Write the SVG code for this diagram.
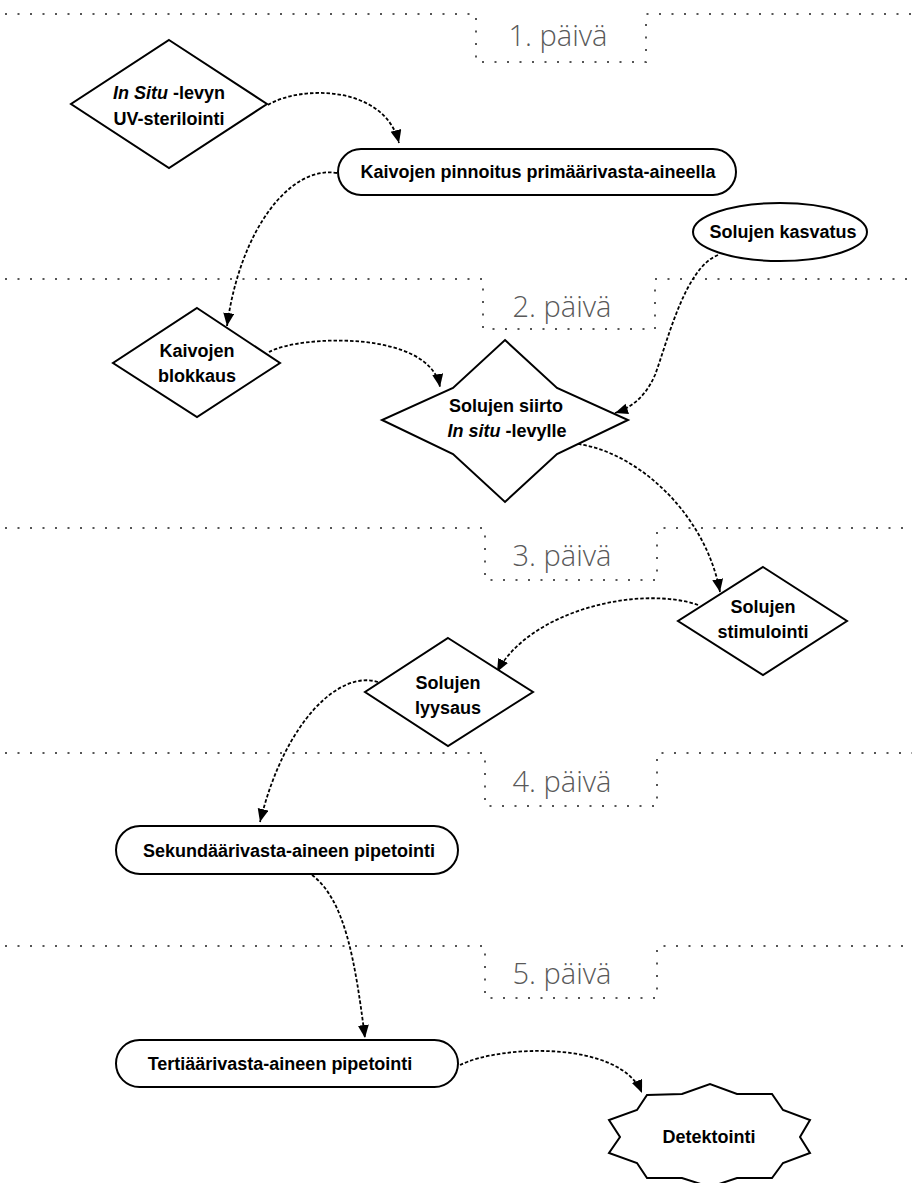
<svg xmlns="http://www.w3.org/2000/svg" width="912" height="1183" viewBox="0 0 912 1183">
<style>
.sep{fill:none;stroke:#555;stroke-width:2;stroke-dasharray:2 10.5}
.day{font-family:"Open Sans","Liberation Sans",sans-serif;font-weight:300;font-size:29px;fill:#595959;text-anchor:middle}
.node{fill:#fff;stroke:#000;stroke-width:2}
.t{font-family:"Liberation Sans",Arial,sans-serif;font-weight:bold;font-size:18px;fill:#000;text-anchor:middle}
.i{font-style:italic}
.c{fill:none;stroke:#000;stroke-width:1.8;stroke-dasharray:3.5 2}
</style>
<defs>
<marker id="ah" markerUnits="userSpaceOnUse" markerWidth="14" markerHeight="12" refX="13" refY="5.5" orient="auto">
<path d="M0,0 L13,5.5 L0,11 z" fill="#000"/>
</marker>
</defs>
<g id="separators">
<path class="sep" d="M5,14 H476 V62 H646 V14 H912"/>
<path class="sep" d="M5,279 H483 V329 H655 V279 H912"/>
<path class="sep" d="M5,528 H485 V580 H657 V528 H912"/>
<path class="sep" d="M5,753 H485 V806 H657 V753 H912"/>
<path class="sep" d="M5,946 H485 V998 H657 V946 H912"/>
<text class="day" x="558" y="46">1. päivä</text>
<text class="day" x="562" y="317">2. päivä</text>
<text class="day" x="562" y="566">3. päivä</text>
<text class="day" x="562" y="792">4. päivä</text>
<text class="day" x="562" y="984">5. päivä</text>
</g>
<g id="connectors" marker-end="url(#ah)">
<path class="c" d="M268,105 C300,85 385,85 399,143"/>
<path class="c" d="M337,173 C290,165 240,230 227,326"/>
<path class="c" d="M718,255 C685,268 668,340 655,375 C645,398 630,408 615,413"/>
<path class="c" d="M269,352 C300,335 430,330 440,387"/>
<path class="c" d="M567,443 C630,445 705,510 720,592"/>
<path class="c" d="M698,605 C640,585 530,610 497,672"/>
<path class="c" d="M378,682 C340,670 285,720 260,822"/>
<path class="c" d="M312,875 C345,900 355,960 365,1038"/>
<path class="c" d="M460,1065 C500,1045 620,1040 642,1093"/>
</g>
<g id="n-uv">
<polygon class="node" points="169,40 267,104 169,168 71,104"/>
<text class="t" x="169" y="99"><tspan class="i">In Situ</tspan> -levyn</text>
<text class="t" x="169" y="125">UV-sterilointi</text>
</g>
<g id="n-pinnoitus">
<rect class="node" x="338" y="149" width="398" height="46" rx="23"/>
<text class="t" x="538" y="178">Kaivojen pinnoitus primäärivasta-aineella</text>
</g>
<g id="n-kasvatus">
<ellipse class="node" cx="780" cy="232" rx="87" ry="29"/>
<text class="t" x="783" y="238">Solujen kasvatus</text>
</g>
<g id="n-blokkaus">
<polygon class="node" points="197,308 280,363 197,417 113,363"/>
<text class="t" x="197" y="357">Kaivojen</text>
<text class="t" x="197" y="382">blokkaus</text>
</g>
<g id="n-siirto">
<polygon class="node" points="505,340 557,388 628,420 557,454 505,502 453,454 382,420 453,388"/>
<text class="t" x="506" y="412">Solujen siirto</text>
<text class="t" x="507" y="437"><tspan class="i">In situ</tspan> -levylle</text>
</g>
<g id="n-stimulointi">
<polygon class="node" points="763,567 847,621 763,675 678,621"/>
<text class="t" x="763" y="613">Solujen</text>
<text class="t" x="763" y="638">stimulointi</text>
</g>
<g id="n-lyysaus">
<polygon class="node" points="448,638 533,692 448,746 365,692"/>
<text class="t" x="448" y="689">Solujen</text>
<text class="t" x="448" y="714">lyysaus</text>
</g>
<g id="n-sekundaari">
<rect class="node" x="116" y="826" width="342" height="48" rx="24"/>
<text class="t" x="289" y="857">Sekundäärivasta-aineen pipetointi</text>
</g>
<g id="n-tertiaari">
<rect class="node" x="116" y="1040" width="342" height="47" rx="23.5"/>
<text class="t" x="280" y="1070">Tertiäärivasta-aineen pipetointi</text>
</g>
<g id="n-detektointi">
<polygon class="node" points="647,1095 682,1094 710,1084 737,1094 772,1094 783,1110 810,1120 800,1137 810,1153 783,1163 772,1178 737,1178 710,1187 682,1178 647,1178 637,1163 609,1153 620,1137 609,1120 637,1110"/>
<text class="t" x="709" y="1143">Detektointi</text>
</g>
</svg>
